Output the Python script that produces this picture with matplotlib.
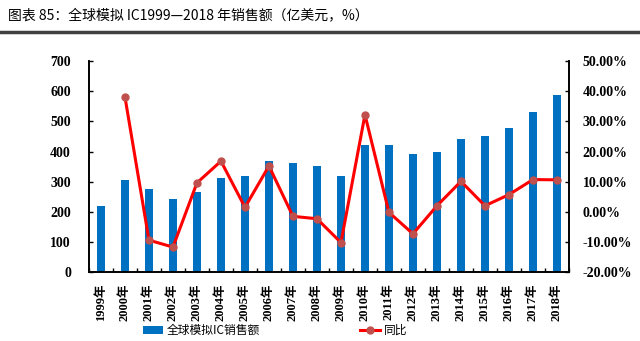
import matplotlib
matplotlib.use("Agg")
import matplotlib.pyplot as plt
import numpy as np

plt.rcParams['font.family'] = ['Liberation Serif', 'Noto Sans CJK SC']

years = ['1999年', '2000年', '2001年', '2002年', '2003年', '2004年', '2005年',
         '2006年', '2007年', '2008年', '2009年', '2010年', '2011年', '2012年',
         '2013年', '2014年', '2015年', '2016年', '2017年', '2018年']
sales = [220, 305, 276, 244, 266, 311, 318, 367, 363, 353,
         318, 423, 423, 393, 400, 443, 451, 478, 530, 586]
# growth rate, %; no value for 1999
growth = [np.nan, 38.1, -9.4, -11.7, 9.6, 16.8, 1.5, 15.2, -1.5, -2.3,
          -10.2, 32.2, -0.2, -7.3, 2.0, 10.1, 2.0, 5.7, 10.7, 10.6]

title = '图表 85：全球模拟 IC1999—2018 年销售额（亿美元，%）'

fig = plt.figure(figsize=(6.4, 3.41), dpi=100)
ax = fig.add_axes([0.139, 0.202, 0.75, 0.619])
ax2 = ax.twinx()

x = np.arange(len(years))
bars = ax.bar(x, sales, width=0.3, color='#0070C0', label='全球模拟IC销售额', zorder=2)
line, = ax2.plot(x, growth, color='#FF0000', lw=2.2, marker='o', ms=5,
                 mfc='#C0504D', mec='#C0504D', label='同比', zorder=3)

ax.set_xlim(-0.5, len(years) - 0.5)
ax.set_ylim(0, 700)
ax.set_yticks(range(0, 701, 100))
ax2.set_ylim(-20, 50)
ax2.set_yticks(range(-20, 51, 10))
ax2.set_yticklabels(['%.2f%%' % v for v in range(-20, 51, 10)])

ax.set_xticks(x)
ax.set_xticklabels(years, rotation=90, fontsize=9, fontweight='bold')
ax.set_xticks(np.arange(-0.5, len(years), 1), minor=True)
ax.tick_params(axis='x', which='major', length=0, pad=8)
ax.tick_params(axis='x', which='minor', direction='in', length=3, width=1)
ax.tick_params(axis='y', direction='in', length=3, width=1, labelsize=10, pad=13)
ax2.tick_params(axis='y', direction='in', length=3, width=1, labelsize=10, pad=10)
for lab in ax.get_yticklabels() + ax2.get_yticklabels():
    lab.set_fontweight('bold')

for a in (ax, ax2):
    a.spines['top'].set_visible(False)
    for s in ('left', 'right', 'bottom'):
        a.spines[s].set_linewidth(1.2)

fig.text(0.012, 0.955, title, fontsize=10, family=['Noto Sans CJK SC'], va='center')
fig.add_artist(plt.Line2D([0, 1], [0.905, 0.905], color='#404040', lw=2.5))

fig.legend(handles=[bars, line], loc='center', bbox_to_anchor=(0.43, 0.03),
           ncol=2, frameon=False, columnspacing=8.5,
           handlelength=1.7, handletextpad=0.3, borderpad=0,
           prop={'family': ['Noto Sans CJK SC'], 'size': 8.5})

fig.savefig('out.png', dpi=100)
